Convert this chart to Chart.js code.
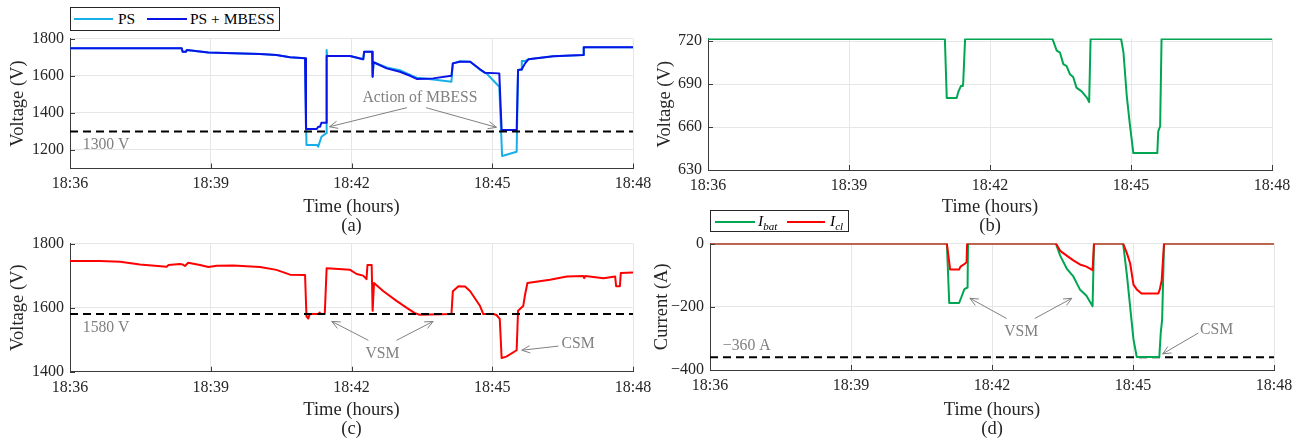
<!DOCTYPE html>
<html><head><meta charset="utf-8">
<script src="https://cdn.jsdelivr.net/npm/chart.js@4.4.1/dist/chart.umd.min.js"></script>
<style>
html,body{margin:0;padding:0;background:#fff;}
body{width:1304px;height:443px;position:relative;overflow:hidden;font-family:'Liberation Serif','Times New Roman',serif;}
canvas{position:absolute;}
.leg{position:absolute;border:1px solid #262626;background:#fff;box-sizing:border-box;z-index:5;}
.ls{position:absolute;height:2px;z-index:6;}
.lt{position:absolute;font-size:15.5px;color:#000;white-space:nowrap;z-index:6;}
.lt i sub{font-size:11px;}
</style></head><body>
<canvas id="ca" width="660" height="236" style="left:0;top:0"></canvas>
<canvas id="cb" width="664" height="236" style="left:640px;top:0"></canvas>
<canvas id="cc" width="660" height="211" style="left:0;top:228px"></canvas>
<canvas id="cd" width="664" height="211" style="left:640px;top:228px"></canvas>

<div class="leg" style="left:70px;top:7px;width:210px;height:24px"></div>
<div class="ls" style="left:74px;top:18px;width:39px;background:#17aeea"></div>
<div class="lt" style="left:118px;top:7px;line-height:24px">PS</div>
<div class="ls" style="left:147px;top:18px;width:40px;background:#0a14e6"></div>
<div class="lt" style="left:190px;top:7px;line-height:24px">PS + MBESS</div>

<div class="leg" style="left:710px;top:210px;width:139px;height:22px"></div>
<div class="ls" style="left:715px;top:221px;width:40px;background:#00a651"></div>
<div class="lt" style="left:758px;top:210px;line-height:22px"><i>I<sub>bat</sub></i></div>
<div class="ls" style="left:787px;top:221px;width:38px;background:#ff0000"></div>
<div class="lt" style="left:830px;top:210px;line-height:22px"><i>I<sub>cl</sub></i></div>

<script>
// ---------- data (time in minutes after 18:36) ----------
const timeTicks = ['18:36', '18:39', '18:42', '18:45', '18:48'];
const timeDomain = [0, 12];

// (a) point of supply voltage
const psTime = [0, 2.38, 2.40, 2.47, 2.49, 2.95, 3.48, 4.05, 4.40, 4.69, 5.01, 5.04, 5.26, 5.29, 5.36, 5.46, 5.47, 5.48, 5.97, 6.25, 6.27, 6.44, 6.45, 6.47, 6.75, 7.03, 7.25, 7.39, 7.74, 8.13, 8.16, 8.31, 8.53, 8.74, 8.88, 9.15, 9.21, 9.52, 9.55, 9.62, 9.63, 9.70, 9.77, 10.30, 10.94, 10.95, 12];
const psVolt = [1748, 1748, 1730, 1730, 1739, 1726, 1721, 1717, 1712, 1700, 1694, 1227, 1227, 1218, 1271, 1290, 1739, 1707, 1707, 1689, 1730, 1730, 1595, 1673, 1645, 1630, 1605, 1590, 1580, 1568, 1667, 1678, 1676, 1632, 1612, 1541, 1167, 1190, 1631, 1631, 1680, 1680, 1689, 1705, 1712, 1754, 1754];
const mbTime = [0, 2.38, 2.40, 2.47, 2.49, 2.95, 3.48, 4.05, 4.40, 4.69, 5.01, 5.03, 5.26, 5.29, 5.33, 5.36, 5.46, 5.47, 5.97, 6.25, 6.27, 6.44, 6.45, 6.47, 6.75, 7.03, 7.25, 7.39, 7.74, 8.13, 8.16, 8.31, 8.53, 8.74, 8.84, 9.15, 9.20, 9.52, 9.55, 9.63, 9.70, 9.77, 10.30, 10.94, 10.95, 12];
const mbVolt = [1748, 1748, 1730, 1730, 1739, 1726, 1721, 1717, 1712, 1700, 1694, 1313, 1313, 1325, 1325, 1347, 1347, 1707, 1707, 1689, 1730, 1730, 1595, 1673, 1640, 1622, 1600, 1583, 1586, 1600, 1667, 1676, 1676, 1635, 1617, 1613, 1308, 1308, 1631, 1635, 1667, 1689, 1705, 1712, 1754, 1754];
const limitA = [1300, 1300];

// (b) battery voltage
const batTime = [0, 5.04, 5.08, 5.29, 5.33, 5.38, 5.42, 5.43, 5.47, 7.33, 7.42, 7.49, 7.56, 7.63, 7.70, 7.77, 7.84, 7.95, 8.06, 8.11, 8.14, 8.79, 8.84, 8.91, 8.98, 9.05, 9.56, 9.58, 9.62, 9.65, 12];
const batVolt = [721.6, 721.6, 680.3, 680.3, 685, 688.7, 688.7, 691, 721.6, 721.6, 713.4, 712, 704, 702.7, 697, 695, 687.6, 685, 680.6, 677.5, 721.6, 721.6, 712, 681.7, 660.6, 641.8, 641.8, 657, 660.6, 721.6, 721.6];

// (c) catenary line voltage
const clTime = [0, 0.64, 1.07, 1.49, 2.06, 2.10, 2.34, 2.40, 2.45, 2.52, 2.77, 2.95, 3.13, 3.48, 4.05, 4.40, 4.69, 5.01, 5.04, 5.08, 5.11, 5.30, 5.32, 5.34, 5.43, 5.47, 5.97, 6.11, 6.25, 6.32, 6.34, 6.43, 6.45, 6.48, 6.68, 6.96, 7.17, 7.35, 7.45, 8.13, 8.16, 8.28, 8.42, 8.53, 8.74, 8.81, 9.02, 9.09, 9.16, 9.20, 9.30, 9.52, 9.55, 9.66, 9.70, 9.75, 10.23, 10.59, 10.94, 10.96, 10.98, 11.37, 11.62, 11.64, 11.72, 11.74, 12];
const clVolt = [1746, 1746, 1743, 1735, 1728, 1733, 1736, 1735, 1730, 1740, 1733, 1727, 1731, 1732, 1727, 1718, 1703, 1702, 1573, 1566, 1580, 1580, 1585, 1580, 1580, 1723, 1718, 1705, 1700, 1689, 1733, 1733, 1590, 1677, 1651, 1621, 1600, 1583, 1578, 1580, 1651, 1667, 1666, 1651, 1605, 1580, 1580, 1577, 1565, 1443, 1447, 1467, 1590, 1605, 1641, 1677, 1687, 1697, 1699, 1692, 1699, 1692, 1697, 1667, 1667, 1708, 1710];
const limitC = [1580, 1580];

// (d) currents
const ibatTime = [0, 5.04, 5.09, 5.30, 5.36, 5.41, 5.46, 5.48, 5.49, 7.36, 7.45, 7.59, 7.73, 7.87, 8.01, 8.14, 8.17, 8.79, 8.87, 8.94, 9.01, 9.08, 9.56, 9.59, 9.62, 9.66, 12];
const ibatVals = [0, 0, -188, -188, -165, -145, -140, -140, 0, 0, -38, -79, -104, -145, -165, -198, 0, 0, -99, -201, -303, -359, -359, -283, -240, 0, 0];
const iclTime = [0, 5.04, 5.11, 5.30, 5.33, 5.43, 5.46, 5.47, 7.36, 7.45, 7.59, 7.73, 7.87, 8.01, 8.14, 8.17, 8.79, 8.87, 8.94, 9.01, 9.08, 9.18, 9.54, 9.57, 9.61, 9.66, 12];
const iclVals = [0, 0, -82, -82, -73, -63, -58, 0, 0, -23, -38, -53, -66, -73, -84, 0, 0, -30, -63, -130, -145, -158, -158, -145, -117, 0, 0];
const limitD = [-360, -360];

// ---------- helpers ----------
const FONT = "'Liberation Serif','Times New Roman',Times,serif";
Chart.defaults.font.family = FONT;
Chart.defaults.font.size = 16;
Chart.defaults.color = '#262626';

const zip = (t, v) => t.map((x, i) => ({x, y: v[i]}));
const fmtY = v => v < 0 ? '\u2212' + Math.abs(v) : String(v);
const AXIS = '#3a3a3a', GRID = '#e6e6e6', NOTE = '#808080';
const TITLE_FONT = {size: 18.5, lineHeight: 19 / 18.5};

function xAxis(h, caption) {
  return {
    type: 'linear', min: timeDomain[0], max: timeDomain[1],
    ticks: {stepSize: 3, padding: 6, maxRotation: 0, autoSkip: false, includeBounds: false,
            callback: v => timeTicks[Math.round(v / 3)] || ''},
    grid: {color: GRID, lineWidth: 1, drawTicks: false},
    border: {color: AXIS, width: 1},
    title: {display: true, text: ['Time (hours)', caption], padding: {top: 0, bottom: 0}, font: TITLE_FONT},
    afterFit: s => { s.height = h; }
  };
}
function yAxis(min, max, step, title, w, tpad) {
  return {
    type: 'linear', min, max,
    ticks: {stepSize: step, padding: 6, includeBounds: false, callback: fmtY},
    grid: {color: GRID, lineWidth: 1, drawTicks: false},
    border: {color: AXIS, width: 1},
    title: {display: true, text: title, padding: {top: tpad, bottom: 0}, font: TITLE_FONT},
    afterFit: s => { s.width = w; }
  };
}
function series(label, t, v, color, order) {
  return {label, data: zip(t, v), borderColor: color, backgroundColor: color, borderWidth: 2,
          pointRadius: 0, tension: 0, fill: false, order, borderJoinStyle: 'round'};
}
function limit(vals, order) {
  return {label: 'limit', data: zip(timeDomain, vals), borderColor: '#000', borderWidth: 2,
          borderDash: [8, 5], pointRadius: 0, fill: false, order};
}

const notesPlugin = {
  id: 'notes',
  afterDatasetsDraw(chart, args, opts) {
    const {ctx, chartArea: ca} = chart;
    const x = chart.scales.x, y = chart.scales.y;
    ctx.save();
    // inward tick marks
    ctx.strokeStyle = AXIS; ctx.lineWidth = 1;
    x.ticks.forEach(t => { const px = Math.round(x.getPixelForValue(t.value)) + 0.5;
      ctx.beginPath(); ctx.moveTo(px, ca.bottom); ctx.lineTo(px, ca.bottom - 5); ctx.stroke(); });
    y.ticks.forEach(t => { const py = Math.round(y.getPixelForValue(t.value)) + 0.5;
      ctx.beginPath(); ctx.moveTo(ca.left, py); ctx.lineTo(ca.left + 5, py); ctx.stroke(); });
    // annotations
    ctx.fillStyle = NOTE; ctx.strokeStyle = NOTE; ctx.lineWidth = 1;
    ctx.font = '15.7px ' + FONT; ctx.textAlign = 'center'; ctx.textBaseline = 'middle';
    (opts.texts || []).forEach(n => ctx.fillText(n.text, x.getPixelForValue(n.x), y.getPixelForValue(n.y)));
    (opts.arrows || []).forEach(a => {
      const x1 = x.getPixelForValue(a.x1), y1 = y.getPixelForValue(a.y1);
      const x2 = x.getPixelForValue(a.x2), y2 = y.getPixelForValue(a.y2);
      const ang = Math.atan2(y2 - y1, x2 - x1), L = 9, sp = 0.42;
      ctx.beginPath(); ctx.moveTo(x1, y1); ctx.lineTo(x2, y2); ctx.stroke();
      ctx.beginPath();
      ctx.moveTo(x2 - L * Math.cos(ang - sp), y2 - L * Math.sin(ang - sp));
      ctx.lineTo(x2, y2);
      ctx.lineTo(x2 - L * Math.cos(ang + sp), y2 - L * Math.sin(ang + sp));
      ctx.stroke();
    });
    ctx.restore();
  }
};

function make(id, datasets, scales, padding, notes) {
  return new Chart(document.getElementById(id), {
    type: 'line',
    data: {datasets},
    options: {
      responsive: false, animation: false, devicePixelRatio: 1, events: [],
      layout: {padding},
      scales,
      plugins: {legend: {display: false}, tooltip: {enabled: false}, notes}
    },
    plugins: [notesPlugin]
  });
}

// (a)
make('ca',
  [limit(limitA, 0), series('PS + MBESS', mbTime, mbVolt, '#0a14e6', 1), series('PS', psTime, psVolt, '#17aeea', 2)],
  {x: xAxis(67.5, '(a)'), y: yAxis(1100, 1800, 200, 'Voltage (V)', 70, 8.75)},
  {left: 0, top: 38.7, right: 27, bottom: 0},
  {texts: [{x: 7.46, y: 1479, text: 'Action of MBESS'}, {x: 0.77, y: 1227, text: '1300 V'}],
   arrows: [{x1: 7.18, y1: 1428, x2: 5.53, y2: 1325}, {x1: 7.59, y1: 1428, x2: 9.09, y2: 1322}]});

// (b)
make('cb',
  [series('Vbat', batTime, batVolt, '#00a651', 1)],
  {x: xAxis(66, '(b)'), y: yAxis(630, 722, 30, 'Voltage (V)', 68, 15.75)},
  {left: 0, top: 38.4, right: 32, bottom: 0},
  {});

// (c)
make('cc',
  [limit(limitC, 0), series('Vcl', clTime, clVolt, '#ff0000', 1)],
  {x: xAxis(67.3, '(c)'), y: yAxis(1400, 1800, 200, 'Voltage (V)', 70, 9.05)},
  {left: 0, top: 13.7, right: 27, bottom: 0},
  {texts: [{x: 0.77, y: 1538, text: '1580 V'}, {x: 6.66, y: 1457, text: 'VSM'}, {x: 10.83, y: 1487, text: 'CSM'}],
   arrows: [{x1: 6.36, y1: 1498, x2: 5.58, y2: 1557}, {x1: 6.96, y1: 1498, x2: 7.74, y2: 1557},
            {x1: 10.41, y1: 1480, x2: 9.63, y2: 1467}]});

// (d)
make('cd',
  [series('Icl', iclTime, iclVals, '#ff0000', 1), series('Ibat', ibatTime, ibatVals, '#00a651', 2), limit(limitD, 3)],
  {x: xAxis(69, '(d)'), y: yAxis(-400, 0, 200, 'Current (A)', 70, 12.45)},
  {left: 0, top: 11.3, right: 30, bottom: 0},
  {texts: [{x: 0.78, y: -323, text: '\u2212360 A'}, {x: 6.62, y: -278, text: 'VSM'}, {x: 10.78, y: -272, text: 'CSM'}],
   arrows: [{x1: 6.31, y1: -237, x2: 5.53, y2: -173}, {x1: 6.91, y1: -237, x2: 7.70, y2: -173},
            {x1: 10.39, y1: -283, x2: 9.63, y2: -349}]});
</script>
</body></html>
